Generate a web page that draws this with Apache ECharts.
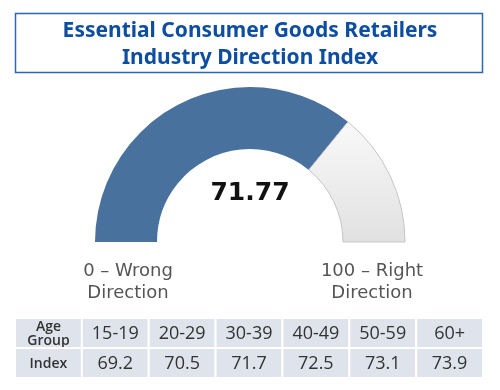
<!DOCTYPE html>
<html>
<head>
<meta charset="utf-8">
<script src="https://cdn.jsdelivr.net/npm/echarts@6/dist/echarts.min.js"></script>
<style>
html,body{margin:0;padding:0;background:#fff;}
#chart{width:500px;height:390px;}
</style>
</head>
<body>
<div id="chart"></div>
<script>
const titleLines = ['Essential Consumer Goods Retailers', 'Industry Direction Index'];
const indexValue = 71.77;
const scaleMax = 100;
const leftLabel = '0 \u2013 Wrong\nDirection';
const rightLabel = '100 \u2013 Right\nDirection';
const headerLabels = ['Age\nGroup', 'Index'];
const ageGroups = ['15-19', '20-29', '30-39', '40-49', '50-59', '60+'];
const groupIndex = [69.2, 70.5, 71.7, 72.5, 73.1, 73.9];

const cols = ['h'].concat(ageGroups);
const rows = ['age', 'index'];
const cellData = [];
for (let c = 0; c < cols.length; c++) {
  for (let r = 0; r < rows.length; r++) cellData.push([c, r]);
}
function cellText(c, r) {
  if (c === 0) return headerLabels[r];
  return r === 0 ? ageGroups[c - 1] : groupIndex[c - 1].toFixed(1);
}

const chart = echarts.init(document.getElementById('chart'), null, {renderer: 'canvas'});
chart.setOption({
  animation: false,
  backgroundColor: '#fff',
  title: {
    text: titleLines.join('\n'),
    left: 'center',
    top: 13,
    textStyle: {
      fontFamily: 'Noto Sans', fontWeight: 'bold', fontSize: 21,
      color: '#0d4ea0', lineHeight: 27
    }
  },
  graphic: [
    {type: 'rect', shape: {x: 15.5, y: 13.5, width: 467, height: 59},
     style: {fill: 'none', stroke: '#2d66b2', lineWidth: 1.5}, z: 10},
    {type: 'text', x: 250, y: 193,
     style: {text: indexValue.toFixed(2), align: 'center', verticalAlign: 'middle',
       font: 'bold 25px "DejaVu Sans"', fill: '#111'}, z: 10},
    {type: 'text', x: 128, y: 282,
     style: {text: leftLabel, align: 'center', verticalAlign: 'middle',
       font: '18px "DejaVu Sans"', lineHeight: 22, fill: '#555'}, z: 10},
    {type: 'text', x: 372, y: 282,
     style: {text: rightLabel, align: 'center', verticalAlign: 'middle',
       font: '18px "DejaVu Sans"', lineHeight: 22, fill: '#555'}, z: 10}
  ],
  grid: {left: 15, top: 318, width: 468, height: 60},
  xAxis: {type: 'category', data: cols, show: false},
  yAxis: {type: 'category', data: rows, inverse: true, show: false},
  series: [
    {
      type: 'pie',
      center: [250, 242],
      radius: [93, 155],
      startAngle: 180,
      clockwise: true,
      silent: true,
      label: {show: false},
      labelLine: {show: false},
      data: [
        {value: indexValue, itemStyle: {color: '#48719e', borderColor: '#48719e', borderWidth: 0}},
        {value: scaleMax - indexValue, itemStyle: {
          color: {type: 'linear', x: 0, y: 0, x2: 0, y2: 1,
            colorStops: [{offset: 0, color: '#f9f9f9'}, {offset: 1, color: '#e1e1e1'}]},
          borderColor: '#c6c6c6', borderWidth: 1}},
        {value: scaleMax, itemStyle: {color: 'rgba(0,0,0,0)', borderWidth: 0}}
      ]
    },
    {
      type: 'custom',
      coordinateSystem: 'cartesian2d',
      silent: true,
      data: cellData,
      renderItem: function (params, api) {
        const c = api.value(0), r = api.value(1);
        const p = api.coord([c, r]);
        const s = api.size([1, 1]);
        const header = c === 0;
        return {
          type: 'group',
          children: [
            {type: 'rect', shape: {x: p[0] - s[0] / 2, y: p[1] - s[1] / 2, width: s[0], height: s[1]},
             style: {fill: '#dfe4ec', stroke: '#fff', lineWidth: 2}},
            {type: 'text', x: p[0], y: p[1] + 1,
             style: {text: cellText(c, r), align: 'center', verticalAlign: 'middle',
               font: header ? '600 14px "Open Sans"' : '18px "Open Sans"',
               lineHeight: 14, fill: '#333'}}
          ]
        };
      }
    }
  ]
});
</script>
</body>
</html>
